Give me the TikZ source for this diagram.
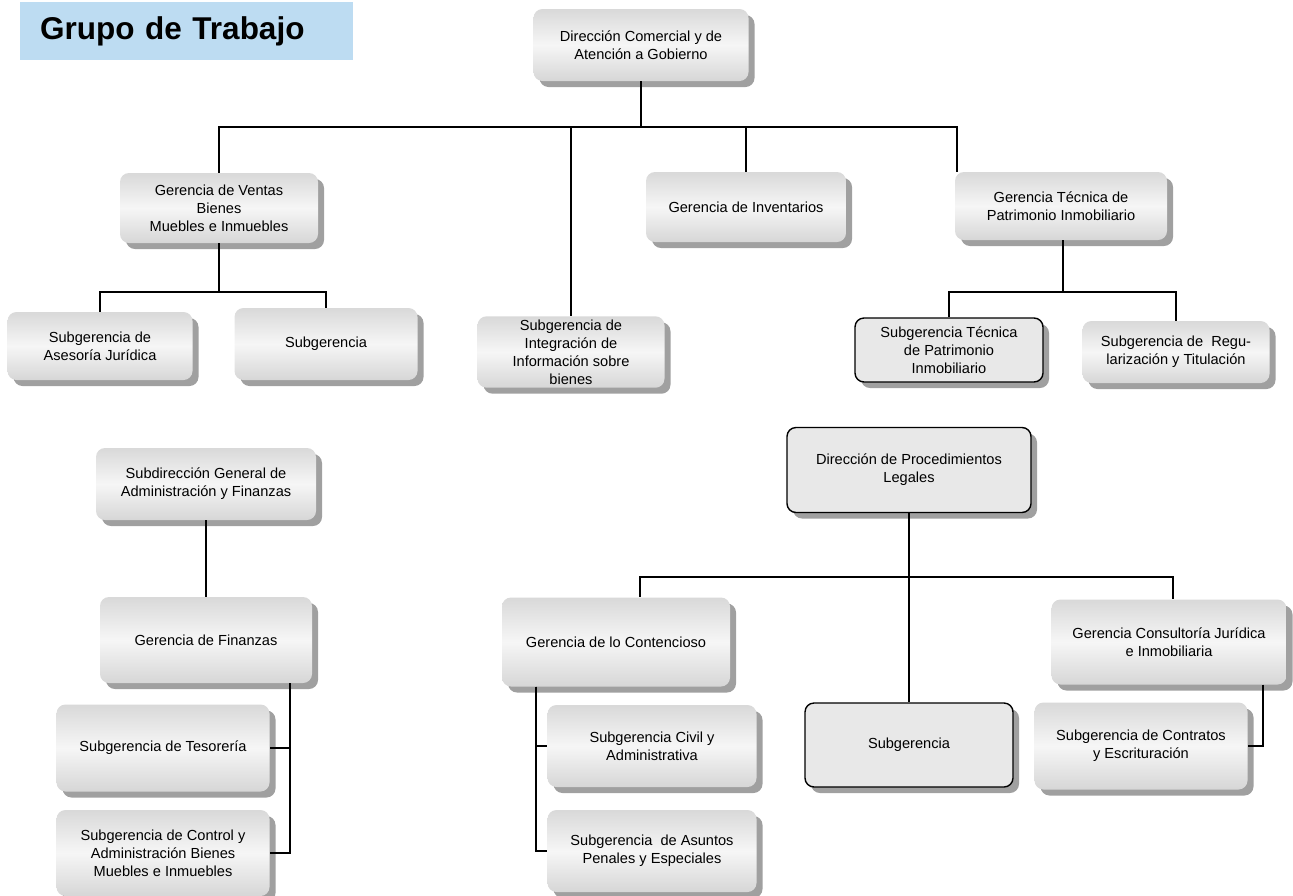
\documentclass[tikz,border=0pt]{standalone}
\usepackage{fontspec}
\setmainfont{Liberation Sans}
\usepackage{tikz}
\usetikzlibrary{shapes.geometric, shadows, positioning}
\definecolor{lblue}{RGB}{189,220,242}
\definecolor{shade}{RGB}{160,160,160}
\newcommand{\boxfont}{\fontsize{14.6}{18}\selectfont}
\tikzstyle{orgbox} = [rectangle, rounded corners=9pt,
align=center, font=\boxfont,
drop shadow={shadow xshift=6pt, shadow yshift=-6pt, fill=shade, opacity=1}]
\tikzstyle{unit} = [orgbox,
top color=gray!30, bottom color=gray!32, middle color=gray!7]
\tikzstyle{unitframed} = [orgbox,
draw=black, line width=1.4pt, fill=gray!18]
\tikzstyle{titlebox} = [rectangle, fill=lblue, anchor=west,
minimum height=58pt, text width=293pt, inner xsep=20pt, align=left,
font=\bfseries\fontsize{31.5}{36}\selectfont]
\tikzstyle{link} = [line width=1.4pt, black]

\begin{document}
\begin{tikzpicture}[x=1pt, y=-1pt]
    \useasboundingbox (0,0) rectangle (1293,895);
    \node (title) [titlebox] at (20,31) {Grupo de Trabajo};

    % direccion comercial
    \node (dcom) [unit, minimum width=215pt, minimum height=72pt] at (641,45)
        {Dirección Comercial y de\\ Atención a Gobierno};
    \node (gven) [unit, minimum width=198pt, minimum height=70pt] at (219,208)
        {Gerencia de Ventas\\ Bienes\\ Muebles e Inmuebles};
    \node (ginv) [unit, minimum width=200pt, minimum height=70pt] at (746,207)
        {Gerencia de Inventarios};
    \node (gtec) [unit, minimum width=212pt, minimum height=68pt] at (1061,206)
        {Gerencia Técnica de\\ Patrimonio Inmobiliario};
    \node (sase) [unit, minimum width=185pt, minimum height=68pt] at (100,346)
        {Subgerencia de\\ Asesoría Jurídica};
    \node (ssub) [unit, minimum width=183pt, minimum height=72pt] at (326,344)
        {Subgerencia};
    \node (sint) [unit, minimum width=187pt, minimum height=70pt] at (571,352)
        {Subgerencia de\\ Integración de\\ Información sobre\\ bienes};
    \node (stec) [unitframed, minimum width=188pt, minimum height=64pt] at (949,350)
        {Subgerencia Técnica\\ de Patrimonio\\ Inmobiliario};
    \node (sreg) [unit, minimum width=187pt, minimum height=62pt] at (1176,352)
        {Subgerencia de \ Regu-\\ larización y Titulación};

    \coordinate (bus1) at (641,127);
    \coordinate (bus2) at (219,292);
    \coordinate (bus3) at (1063,292);
    \draw [link] (dcom) -- (bus1);
    \draw [link] (bus1) -| (gven);
    \draw [link] (bus1) -| (sint);
    \draw [link] (bus1) -| (ginv);
    \draw [link] (bus1) -| ([xshift=-104pt]gtec.north);
    \draw [link] (gven) -- (bus2);
    \draw [link] (bus2) -| (sase);
    \draw [link] (bus2) -| (ssub);
    \draw [link] ([xshift=2pt]gtec.south) -- (bus3);
    \draw [link] (bus3) -| (stec);
    \draw [link] (bus3) -| (sreg);

    % administracion y finanzas
    \node (sdir) [unit, minimum width=220pt, minimum height=72pt] at (206,484)
        {Subdirección General de\\ Administración y Finanzas};
    \node (gfin) [unit, minimum width=212pt, minimum height=86pt] at (206,640)
        {Gerencia de Finanzas};
    \node (stes) [unit, minimum width=213pt, minimum height=87pt] at (163,748)
        {Subgerencia de Tesorería};
    \node (sctl) [unit, minimum width=213pt, minimum height=86pt] at (163,853)
        {Subgerencia de Control y\\ Administración Bienes\\ Muebles e Inmuebles};

    \draw [link] (sdir) -- (gfin);
    \draw [link] ([xshift=84pt]gfin.south) |- (stes.east);
    \draw [link] ([xshift=84pt]gfin.south) |- (sctl.east);

    % procedimientos legales
    \node (dproc) [unitframed, minimum width=244pt, minimum height=85pt] at (909,470)
        {Dirección de Procedimientos\\ Legales};
    \node (gcon) [unit, minimum width=228pt, minimum height=89pt] at (616,642)
        {Gerencia de lo Contencioso};
    \node (gcj) [unit, minimum width=235pt, minimum height=85pt] at (1169,642)
        {Gerencia Consultoría Jurídica\\ e Inmobiliaria};
    \node (subl) [unitframed, minimum width=208pt, minimum height=84pt] at (909,745)
        {Subgerencia};
    \node (civ) [unit, minimum width=209pt, minimum height=82pt] at (652,746)
        {Subgerencia Civil y\\ Administrativa};
    \node (pen) [unit, minimum width=209pt, minimum height=82pt] at (652,851)
        {Subgerencia \ de Asuntos\\ Penales y Especiales};
    \node (scon) [unit, minimum width=213pt, minimum height=87pt] at (1141,746)
        {Subgerencia de Contratos\\ y Escrituración};

    \coordinate (bus4) at (909,577);
    \draw [link] (dproc) -- (subl);
    \draw [link] (bus4) -| ([xshift=24pt]gcon.north);
    \draw [link] (bus4) -| ([xshift=4pt]gcj.north);
    \draw [link] ([xshift=-80pt]gcon.south) |- (civ.west);
    \draw [link] ([xshift=-80pt]gcon.south) |- (pen.west);
    \draw [link] ([xshift=94pt]gcj.south) |- (scon.east);
\end{tikzpicture}
\end{document}
